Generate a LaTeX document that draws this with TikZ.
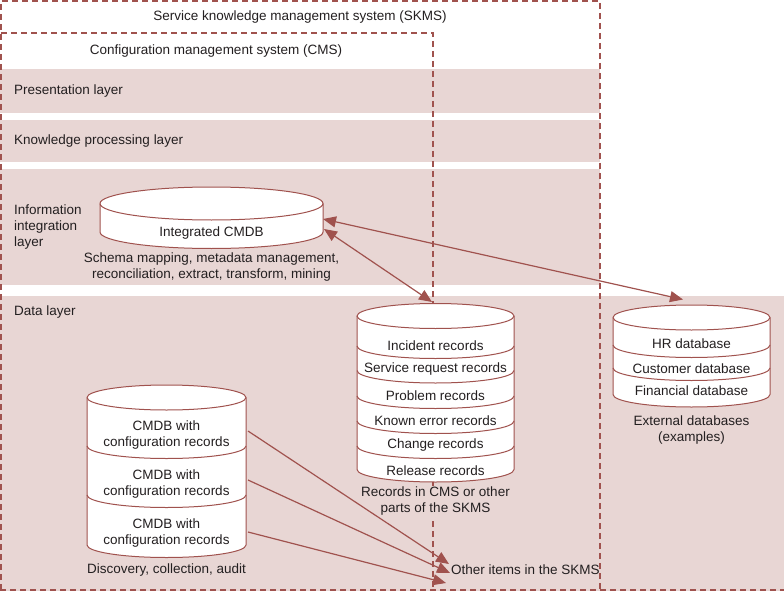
\documentclass[tikz,border=0pt]{standalone}
\usepackage{fontspec}
\setmainfont{Liberation Sans}
\usetikzlibrary{arrows.meta}
\definecolor{band}{HTML}{E8D6D4}
\definecolor{edge}{HTML}{A0524E}
\definecolor{txt}{HTML}{231F20}
\tikzset{
  lbl/.style={text=txt, font=\fontsize{13.5}{16}\selectfont, inner sep=0pt, align=center},
  lbll/.style={lbl, anchor=west, align=left},
  bandfill/.style={fill=band, draw=none},
  dashline/.style={draw=edge, line width=1.3pt, dash pattern=on 6pt off 4pt},
  cylline/.style={draw=edge, line width=1pt, fill=white},
  cylarc/.style={draw=edge, line width=1pt},
  tip/.style={Triangle[length=13pt,width=11pt]},
  link/.style={draw=edge, line width=1.2pt, -{Triangle[length=13pt,width=11pt]}},
  dlink/.style={draw=edge, line width=1.2pt, {Triangle[length=13pt,width=11pt]}-{Triangle[length=13pt,width=11pt]}},
}
% #1 cx, #2 rx, #3 top centre y, #4 bottom centre y, #5 ry
\newcommand{\dbbody}[5]{%
  \filldraw[cylline] (#1-#2,#3) -- (#1-#2,#4)
    arc[start angle=180,end angle=0,x radius=#2,y radius=#5]
    -- (#1+#2,#3)
    arc[start angle=0,end angle=-180,x radius=#2,y radius=#5] -- cycle;
  \draw[cylarc] (#1-#2,#3) arc[start angle=180,end angle=0,x radius=#2,y radius=#5];
}
% #1 cx, #2 rx, #3 y, #4 ry
\newcommand{\dbdivider}[4]{%
  \draw[cylarc] (#1-#2,#3) arc[start angle=180,end angle=0,x radius=#2,y radius=#4];
}
\begin{document}
\begin{tikzpicture}[x=1pt,y=-1pt]
\useasboundingbox (0,0) rectangle (784,591);
% layer bands
\path[bandfill] (0,69) rectangle (600,113);
\path[bandfill] (0,120) rectangle (600,162);
\path[bandfill] (0,169) rectangle (600,285);
\path[bandfill] (0,296) rectangle (784,591);
% system boundaries
\draw[dashline] (1,590) -- (1,1) -- (600,1) -- (600,590);
\draw[dashline] (1,33) -- (433,33) -- (433,590);
\draw[dashline] (0,590) -- (784,590);
% titles
\node[lbl] (skms) at (300,17) {Service knowledge management system (SKMS)};
\node[lbl] (cms) at (216,51) {Configuration management system (CMS)};
\node[lbll] (pres) at (14,91) {Presentation layer};
\node[lbll] (know) at (14,141) {Knowledge processing layer};
\node[lbll] (info) at (14,227) {Information\\integration\\layer};
\node[lbll] (data) at (14,312) {Data layer};
% integrated CMDB
\dbbody{211.5}{111.5}{203.5}{232}{16.5}
\node[lbl] (icmdb) at (211.5,233) {Integrated CMDB};
\node[lbl] (schema) at (211.5,267) {Schema mapping, metadata management,\\reconciliation, extract, transform, mining};
% records
\dbbody{435.5}{78.5}{316}{469.5}{12.5}
\dbdivider{435.5}{78.5}{346}{12.5}
\dbdivider{435.5}{78.5}{370.5}{12.5}
\dbdivider{435.5}{78.5}{396}{12.5}
\dbdivider{435.5}{78.5}{421}{12.5}
\dbdivider{435.5}{78.5}{446}{12.5}
\node[lbl] (r1) at (435.5,346) {Incident records};
\node[lbl] (r2) at (435.5,369.5) {Service request records};
\node[lbl] (r3) at (435.5,396) {Problem records};
\node[lbl] (r4) at (435.5,420.5) {Known error records};
\node[lbl] (r5) at (435.5,445) {Change records};
\node[lbl] (r6) at (435.5,471) {Release records};
\node[lbl, fill=band, inner sep=1pt] (rcap) at (435.5,501.5) {Records in CMS or other\\parts of the SKMS};
% external databases
\dbbody{691.5}{78.5}{317.5}{394.5}{12.5}
\dbdivider{691.5}{78.5}{345}{12.5}
\dbdivider{691.5}{78.5}{368}{12.5}
\node[lbl] (e1) at (691.5,344) {HR database};
\node[lbl] (e2) at (691.5,369) {Customer database};
\node[lbl] (e3) at (691.5,391) {Financial database};
\node[lbl] (ecap) at (691.5,430.5) {External databases\\(examples)};
% CMDB stack
\dbbody{166.5}{79.5}{397.5}{545}{12.5}
\dbdivider{166.5}{79.5}{446}{12.5}
\dbdivider{166.5}{79.5}{495}{12.5}
\node[lbl] (c1) at (166.5,435) {CMDB with\\configuration records};
\node[lbl] (c2) at (166.5,484) {CMDB with\\configuration records};
\node[lbl] (c3) at (166.5,533) {CMDB with\\configuration records};
\node[lbl] (disc) at (166.5,570) {Discovery, collection, audit};
\node[lbll] (other) at (451,570) {Other items in the SKMS};
% connector end points
\coordinate (icA) at (323,219);
\coordinate (icB) at (324,229);
\coordinate (recTop) at (432,302);
\coordinate (extTop) at (683,299.5);
\coordinate (cs1) at (248,431);
\coordinate (cs2) at (248,480);
\coordinate (cs3) at (248,532);
\coordinate (ot1) at (449,564);
\coordinate (ot2) at (450,573);
\coordinate (ot3) at (446,583);
% connectors
\draw[dlink] (icA) -- (extTop);
\draw[dlink] (icB) -- (recTop);
\draw[link] (cs1) -- (ot1);
\draw[link] (cs2) -- (ot2);
\draw[link] (cs3) -- (ot3);
\end{tikzpicture}
\end{document}
